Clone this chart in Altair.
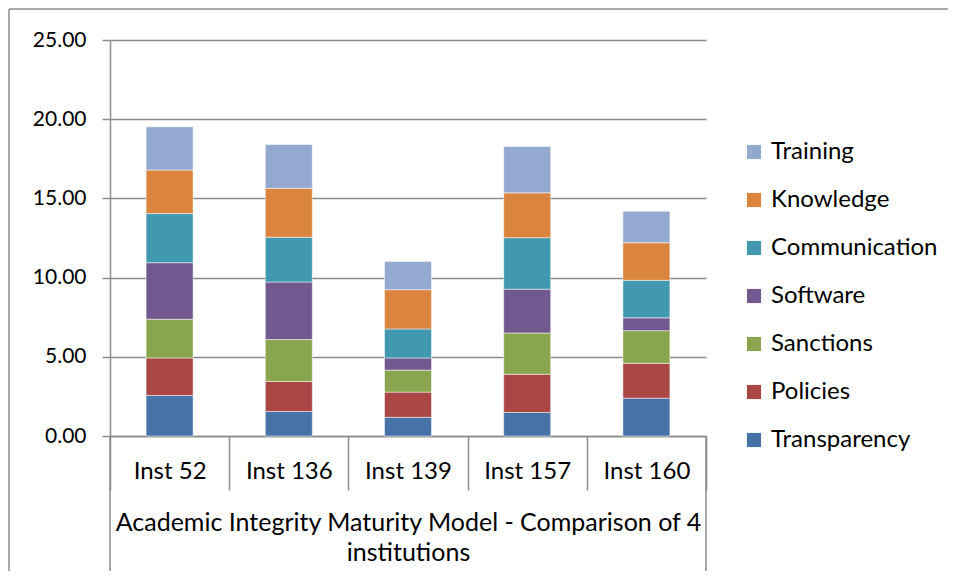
import altair as alt
import pandas as pd

categories = ["Inst 52", "Inst 136", "Inst 139", "Inst 157", "Inst 160"]
series_names = ["Transparency", "Policies", "Sanctions", "Software",
                "Communication", "Knowledge", "Training"]
transparency = [2.56, 1.55, 1.18, 1.49, 2.39]
policies = [2.37, 1.89, 1.59, 2.41, 2.20]
sanctions = [2.44, 2.65, 1.39, 2.60, 2.06]
software = [3.57, 3.63, 0.77, 2.77, 0.81]
communication = [3.10, 2.83, 1.83, 3.25, 2.37]
knowledge = [2.75, 3.09, 2.48, 2.83, 2.37]
training = [2.73, 2.77, 1.78, 2.93, 1.99]
colors = ["#4572A7", "#AA4643", "#89A54E", "#71588F",
          "#4198AF", "#DB843D", "#93A9CF"]
y_ticks = [0, 5, 10, 15, 20, 25]
x_title = ["Academic Integrity Maturity Model - Comparison of 4", "institutions"]

series_values = [transparency, policies, sanctions, software,
                 communication, knowledge, training]
rows = []
for si, (name, vals) in enumerate(zip(series_names, series_values)):
    for c, v in zip(categories, vals):
        rows.append({"inst": c, "series": name, "value": v, "order": si})
df = pd.DataFrame(rows)

FONT = "Lato"
GRAY = "#8c8c8c"
W, H = 596, 396

legend_domain = list(reversed(series_names))
legend_range = list(reversed(colors))

bars = alt.Chart(df).mark_bar(size=47, stroke="#ffffff", strokeOpacity=0.5, strokeWidth=1).encode(
    x=alt.X("inst:N", sort=categories, scale=alt.Scale(paddingInner=0, paddingOuter=0),
            axis=alt.Axis(title=x_title, tickBand="extent", tickSize=54, tickColor=GRAY,
                          tickWidth=1.5, domainColor=GRAY, domainWidth=1.5,
                          labelAngle=0, labelFontSize=24, labelFont=FONT, labelColor="#000000",
                          labelPadding=-31, titleFontSize=25, titleFont=FONT,
                          titleFontWeight="normal", titleColor="#000000",
                          titlePadding=20, titleLineHeight=30)),
    y=alt.Y("value:Q", stack="zero", scale=alt.Scale(domain=[0, 25], nice=False),
            axis=alt.Axis(values=y_ticks, format=".2f", title=None, tickSize=8,
                          tickColor=GRAY, tickWidth=1.5, domainColor=GRAY, domainWidth=1.5,
                          gridColor=GRAY, gridWidth=1.5, labelFontSize=21, labelFont=FONT,
                          labelColor="#000000", labelPadding=16)),
    color=alt.Color("series:N", scale=alt.Scale(domain=legend_domain, range=legend_range),
                    legend=alt.Legend(title=None, orient="none", legendX=632, legendY=100,
                                      symbolType="square", symbolSize=200, symbolStrokeWidth=0,
                                      labelFontSize=24, labelFont=FONT, labelColor="#000000",
                                      labelLimit=400, rowPadding=24, labelOffset=5)),
    order=alt.Order("order:Q", sort="ascending"),
)

one = pd.DataFrame({"a": [0]})
left_ext = alt.Chart(one).mark_rule(color=GRAY, strokeWidth=1.5).encode(
    x=alt.value(0), y=alt.value(H), y2=alt.value(H + 150))
right_ext = alt.Chart(one).mark_rule(color=GRAY, strokeWidth=1.5).encode(
    x=alt.value(W), y=alt.value(H), y2=alt.value(H + 150))
frame_top = alt.Chart(one).mark_rule(color=GRAY, strokeWidth=1.5).encode(
    x=alt.value(-101), x2=alt.value(W + 250), y=alt.value(-31), )
frame_left = alt.Chart(one).mark_rule(color=GRAY, strokeWidth=1.5).encode(
    x=alt.value(-101), y=alt.value(-31), y2=alt.value(H + 150))

chart = alt.layer(bars, left_ext, right_ext, frame_top, frame_left).properties(
    width=W, height=H,
    autosize=alt.AutoSizeParams(type="none"),
    padding={"left": 102, "top": 32, "right": 242, "bottom": 135},
).configure_view(stroke=None).configure_axis(grid=True).configure_axisX(grid=False)

chart.save("out.html", embed_options={"renderer": "svg", "actions": False})
